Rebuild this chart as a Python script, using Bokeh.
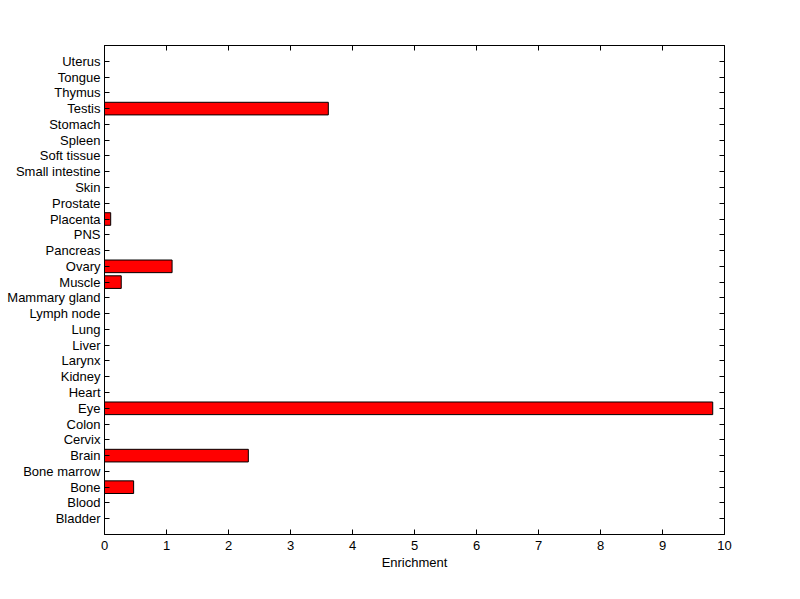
from bokeh.plotting import figure
from bokeh.models import Range1d, LinearAxis, FixedTicker, ColumnDataSource
from bokeh.embed import file_html
from bokeh.resources import INLINE

tissues = ["Bladder", "Blood", "Bone", "Bone marrow", "Brain", "Cervix", "Colon", "Eye",
           "Heart", "Kidney", "Larynx", "Liver", "Lung", "Lymph node", "Mammary gland",
           "Muscle", "Ovary", "Pancreas", "PNS", "Placenta", "Prostate", "Skin",
           "Small intestine", "Soft tissue", "Spleen", "Stomach", "Testis", "Thymus",
           "Tongue", "Uterus"]
enrichment = [0, 0, 0.47, 0, 2.32, 0, 0, 9.81,
              0, 0, 0, 0, 0, 0, 0,
              0.27, 1.09, 0, 0, 0.10, 0, 0,
              0, 0, 0, 0, 3.61, 0,
              0, 0]
x_ticks = [0, 1, 2, 3, 4, 5, 6, 7, 8, 9, 10]

pos = list(range(1, len(tissues) + 1))
nz = [i for i, v in enumerate(enrichment) if v > 0]
src = ColumnDataSource(dict(y=[pos[i] for i in nz], v=[enrichment[i] for i in nz]))

FONT = "Liberation Sans"

p = figure(width=792, height=591, output_backend="svg", toolbar_location=None,
           x_range=Range1d(0, 10), y_range=Range1d(0, len(tissues) + 1),
           min_border_left=104, min_border_right=68, min_border_top=45, min_border_bottom=57,
           x_axis_label="Enrichment")
p.hbar(y="y", left=0, right="v", height=0.8, source=src,
       fill_color="#ff0000", line_color="black", line_width=1)

p.grid.visible = False
p.outline_line_color = "black"
p.outline_line_width = 1
p.background_fill_color = "white"
p.border_fill_color = "white"

def style(ax):
    ax.axis_line_color = "black"
    ax.major_tick_line_color = "black"
    ax.major_tick_in = 5
    ax.major_tick_out = 0
    ax.minor_tick_line_color = None
    ax.major_label_text_font = FONT
    ax.major_label_text_font_size = "13px"
    ax.major_label_text_color = "black"
    ax.axis_label_text_font = FONT
    ax.axis_label_text_font_size = "13px"
    ax.axis_label_text_font_style = "normal"
    ax.axis_label_text_color = "black"
    ax.axis_label_standoff = 2
    ax.major_label_standoff = 4

xb = p.xaxis[0]
xb.ticker = FixedTicker(ticks=x_ticks)
style(xb)
xb.major_label_standoff = 6
yl = p.yaxis[0]
yl.ticker = FixedTicker(ticks=pos)
yl.major_label_overrides = {k: t for k, t in zip(pos, tissues)}
style(yl)

xt = LinearAxis(ticker=FixedTicker(ticks=x_ticks))
style(xt)
xt.major_label_overrides = {k: "" for k in x_ticks}
p.add_layout(xt, "above")
yr = LinearAxis(ticker=FixedTicker(ticks=pos))
style(yr)
yr.major_label_overrides = {k: "" for k in pos}
p.add_layout(yr, "right")

open("out.html", "w").write(file_html(p, INLINE))
